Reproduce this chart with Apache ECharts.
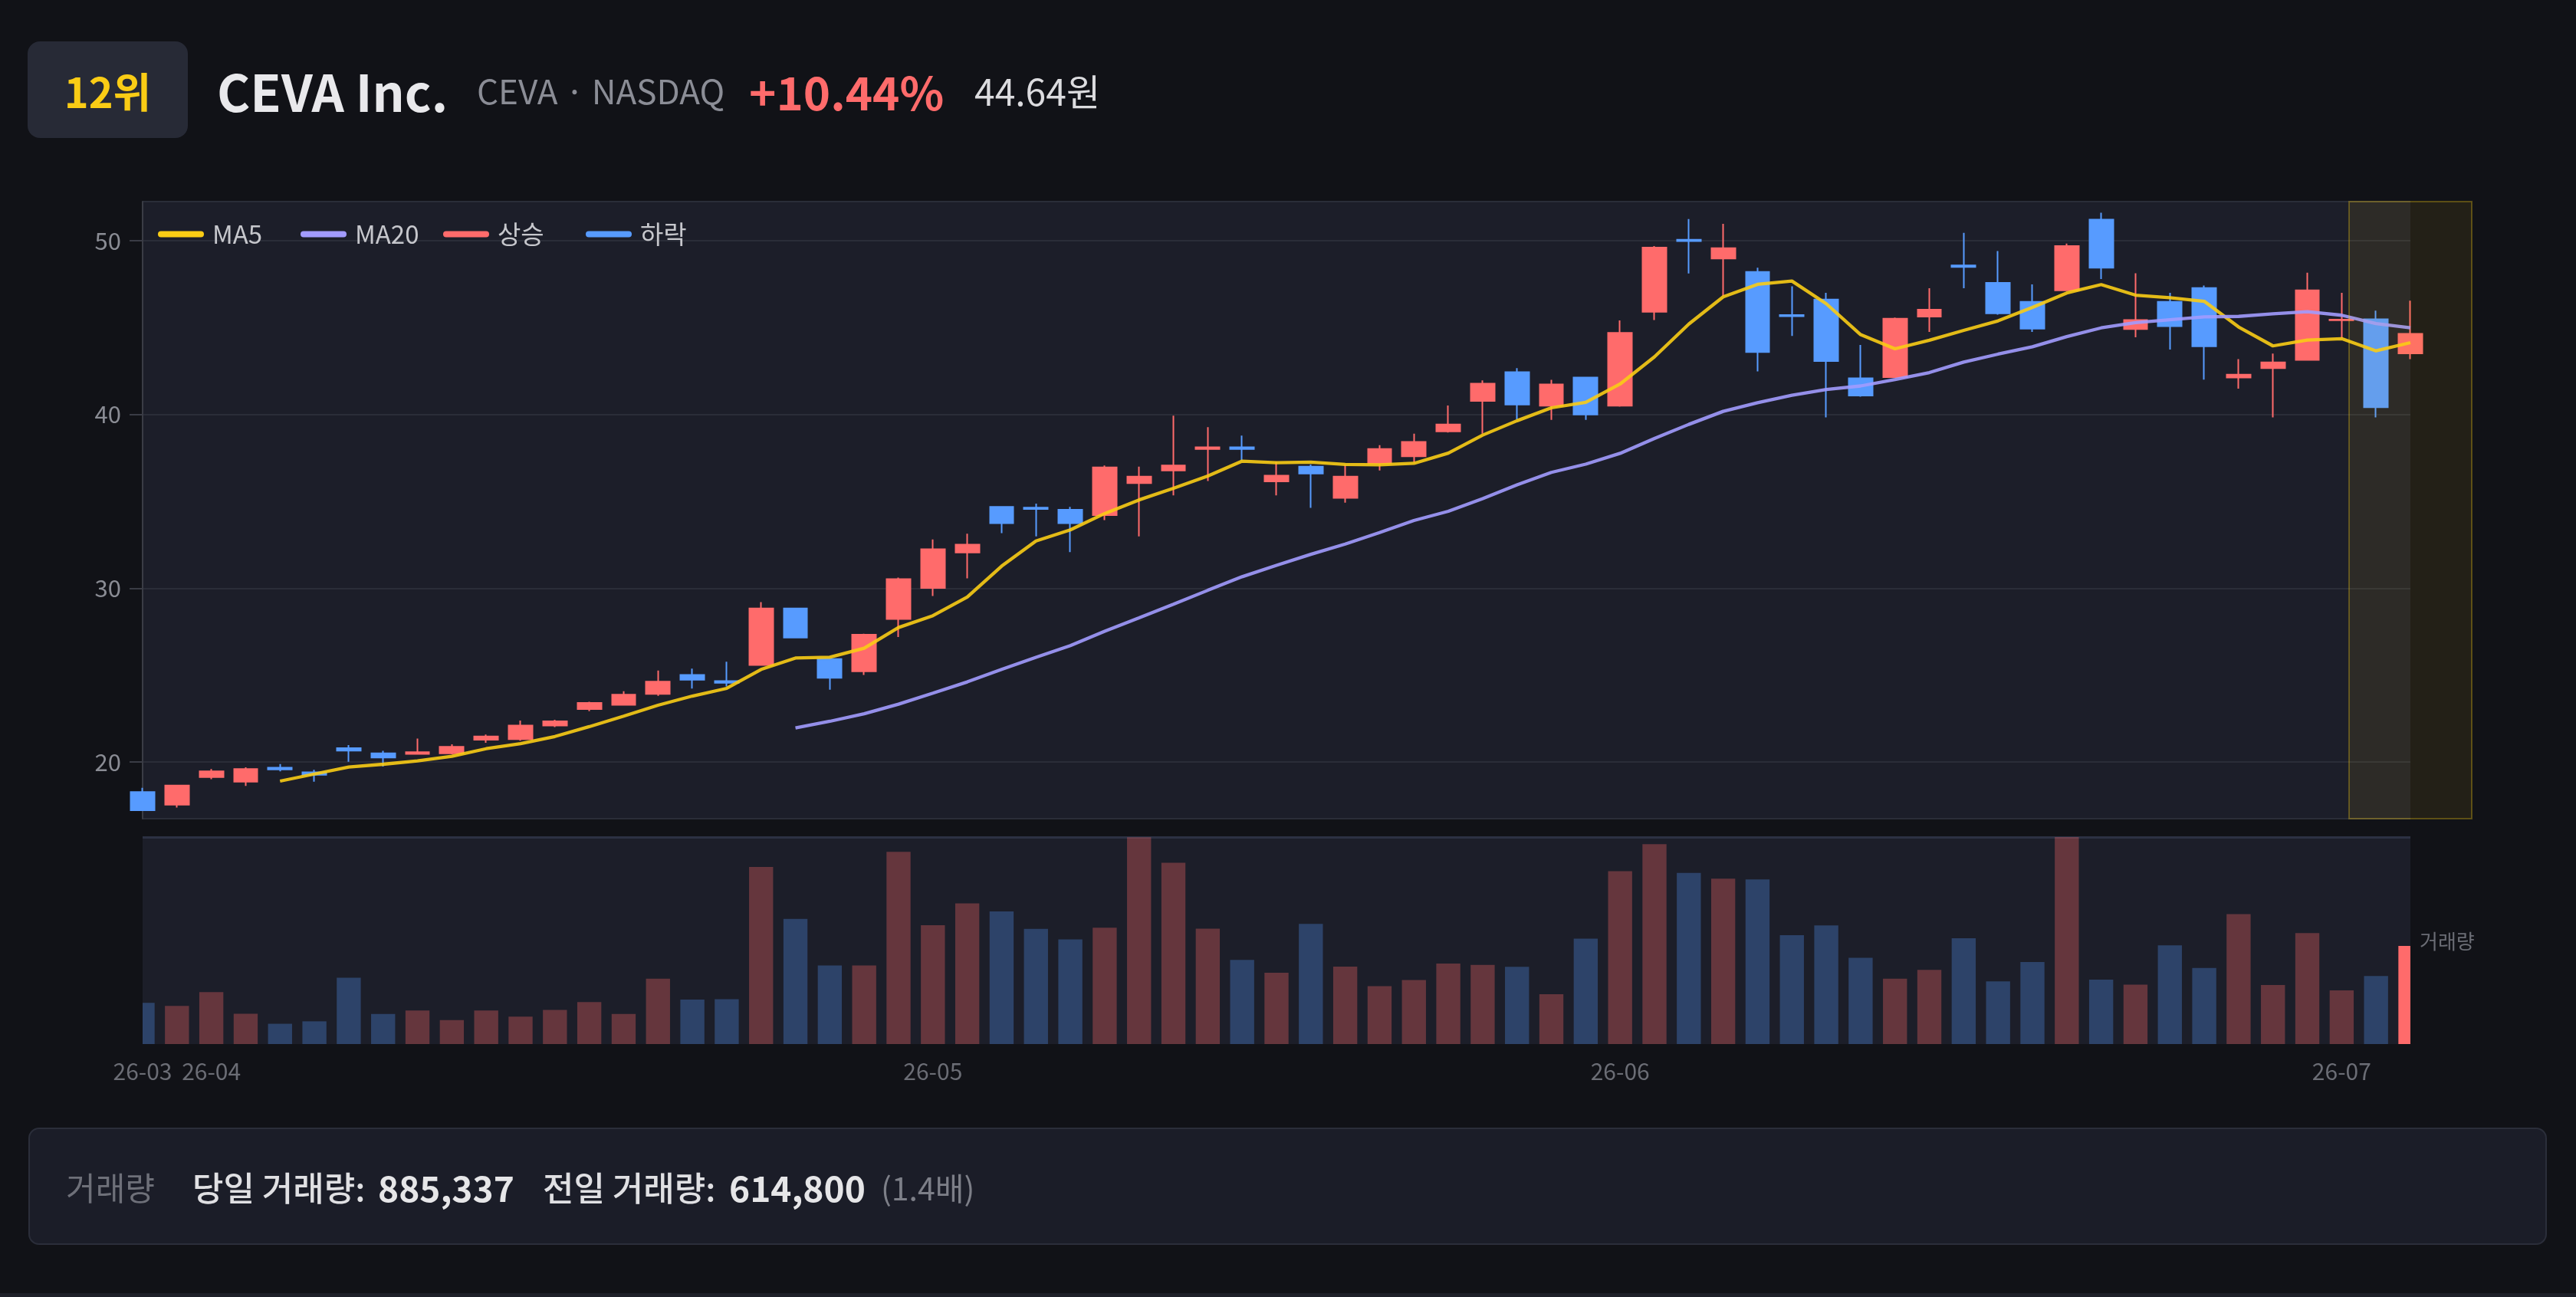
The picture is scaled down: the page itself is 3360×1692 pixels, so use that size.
<!DOCTYPE html>
<html>
<head>
<meta charset="utf-8">
<script src="https://cdn.jsdelivr.net/npm/echarts/dist/echarts.min.js"></script>
<style>
  html, body { margin: 0; padding: 0; background: #111217; width: 3360px; height: 1692px; overflow: hidden; font-family: "Noto Sans CJK KR", "Noto Sans", sans-serif; }
  #chart { position: absolute; left: 0; top: 0; width: 3360px; height: 1692px; }
  .h { position: absolute; top: 54px; height: 126px; display: flex; align-items: center; white-space: nowrap; }
  #badge { left: 36px; width: 209px; background: #272a36; border-radius: 16px; justify-content: center; color: #facc15; font-size: 54px; font-weight: 700; }
  #title { left: 283px; color: #e9e9ec; font-size: 66px; font-weight: 700; }
  #ticker { left: 622px; color: #8b8d96; font-size: 44px; }
  #pct { left: 977px; color: #ff6b6b; font-size: 60px; font-weight: 700; }
  #price { left: 1271px; color: #dcdcdf; font-size: 48px; }
  #foot { position: absolute; left: 37px; top: 1471px; width: 3285px; height: 153px; box-sizing: border-box; border: 2px solid #2b2e3a; border-radius: 14px; background: #1b1d28; }
  .f { position: absolute; top: 0; height: 149px; display: flex; align-items: center; white-space: nowrap; }
  .lab { font-size: 42px; color: #6e7079; }
  .txt { font-size: 44px; font-weight: 500; color: #e0e0e3; }
  .num { font-size: 46px; font-weight: 700; color: #e6e6e8; }
  .ratio { font-size: 41px; color: #7d7f88; }
  #bottomline { position: absolute; left: 0; top: 1687px; width: 3360px; height: 5px; background: #1e2029; }
</style>
</head>
<body>
<div id="chart"></div>
<div class="h" id="badge">12위</div>
<div class="h" id="title">CEVA Inc.</div>
<div class="h" id="ticker">CEVA · NASDAQ</div>
<div class="h" id="pct">+10.44%</div>
<div class="h" id="price">44.64원</div>
<div id="foot">
  <div class="f lab" style="left:47px;">거래량</div>
  <div class="f txt" style="left:212px;">당일 거래량:</div>
  <div class="f num" style="left:454px;">885,337</div>
  <div class="f txt" style="left:669px;">전일 거래량:</div>
  <div class="f num" style="left:912px;">614,800</div>
  <div class="f ratio" style="left:1110px;">(1.4배)</div>
</div>
<div id="bottomline"></div>
<script>
// ---- data ----
const dates = [
  '2026-03-30','2026-03-31',
  '2026-04-01','2026-04-02','2026-04-06','2026-04-07','2026-04-08','2026-04-09','2026-04-10',
  '2026-04-13','2026-04-14','2026-04-15','2026-04-16','2026-04-17','2026-04-20','2026-04-21',
  '2026-04-22','2026-04-23','2026-04-24','2026-04-27','2026-04-28','2026-04-29','2026-04-30',
  '2026-05-01','2026-05-04','2026-05-05','2026-05-06','2026-05-07','2026-05-08','2026-05-11',
  '2026-05-12','2026-05-13','2026-05-14','2026-05-15','2026-05-18','2026-05-19','2026-05-20',
  '2026-05-21','2026-05-22','2026-05-26','2026-05-27','2026-05-28','2026-05-29',
  '2026-06-01','2026-06-02','2026-06-03','2026-06-04','2026-06-05','2026-06-08','2026-06-09',
  '2026-06-10','2026-06-11','2026-06-12','2026-06-15','2026-06-16','2026-06-17','2026-06-18',
  '2026-06-22','2026-06-23','2026-06-24','2026-06-25','2026-06-26','2026-06-29','2026-06-30',
  '2026-07-01','2026-07-02','2026-07-06'
];
const opens = [
  18.27,17.54,19.13,18.87,19.67,19.41,20.80,20.50,20.47,20.50,
  21.28,21.32,22.10,23.05,23.29,23.92,25.01,24.66,25.58,28.84,
  25.93,25.22,28.23,30.02,32.06,34.68,34.64,34.52,34.21,36.05,
  36.78,38.01,38.11,36.15,37.00,35.20,37.19,37.59,39.03,40.78,
  42.43,40.50,42.13,40.50,45.91,50.05,48.98,48.20,45.72,46.62,
  42.08,42.15,45.63,48.58,47.57,46.48,47.14,51.21,44.92,46.48,
  47.28,42.13,42.67,43.14,45.42,45.48,43.52
];
const closes = [
  17.23,18.65,19.46,19.60,19.57,19.27,20.66,20.26,20.57,20.87,
  21.47,22.10,22.34,23.40,23.88,24.63,24.73,24.56,28.84,27.16,
  24.85,27.33,30.52,32.25,32.51,33.74,34.56,33.74,36.95,36.43,
  37.07,38.11,38.01,36.48,36.60,36.43,38.01,38.42,39.43,41.77,
  40.57,41.73,40.00,44.70,49.60,49.98,49.57,43.59,45.65,43.07,
  41.09,45.51,46.03,48.49,45.82,44.94,49.69,48.44,45.44,45.08,
  43.92,42.29,43.00,47.14,45.46,40.42,44.64
];
const lows = [
  17.20,17.38,19.01,18.63,19.46,18.87,20.02,19.74,20.45,20.45,
  21.11,21.23,22.01,22.93,23.27,23.81,24.23,24.35,25.55,27.14,
  24.16,25.01,27.19,29.55,30.57,33.17,32.98,32.08,33.92,32.98,
  35.34,36.17,37.35,35.34,34.63,34.92,36.78,37.23,38.96,38.89,
  39.72,39.69,39.69,40.45,45.44,48.11,46.81,42.48,44.52,39.83,
  41.02,42.15,44.75,47.26,45.74,44.75,47.14,47.80,44.44,43.74,
  42.01,41.49,39.83,43.14,44.40,39.83,43.19
];
const highs = [
  18.51,18.66,19.60,19.69,19.88,19.55,20.97,20.64,21.35,21.02,
  21.58,22.39,22.43,23.47,24.07,25.27,25.37,25.77,29.20,28.86,
  25.95,27.38,30.61,32.81,33.14,34.73,34.87,34.68,37.07,37.00,
  39.93,39.27,38.79,37.30,37.12,37.12,38.23,38.89,40.52,41.96,
  42.67,41.99,42.13,45.41,49.69,51.25,50.97,48.44,47.38,47.00,
  44.00,45.58,47.26,50.45,49.41,47.49,49.83,51.61,48.13,47.00,
  47.42,43.19,43.50,48.16,47.00,45.98,46.55
];
const volumes = [
  372000,344000,469000,273000,183000,205000,598000,272000,303000,217000,
  302000,247000,308000,379000,271000,590000,402000,404000,1599000,1130000,
  710000,709000,1734000,1072000,1270000,1197000,1040000,945000,1050000,1866000,
  1636000,1041000,760000,643000,1085000,699000,523000,577000,727000,715000,
  697000,450000,951000,1560000,1804000,1545000,1493000,1485000,983000,1070000,
  779000,590000,669000,955000,566000,740000,1868000,581000,536000,891000,
  686000,1173000,532000,1001000,484000,614800,885337
];
const legendNames = ['MA5', 'MA20', '상승', '하락'];

// ---- styles ----
const FONT = '"Noto Sans CJK KR", "Noto Sans", sans-serif';
const UP = '#ff6b6b', DOWN = '#579bff';
const UP_DIM = 'rgba(255,107,107,0.32)', DOWN_DIM = 'rgba(87,155,255,0.30)';
const MA5_C = '#facc15', MA20_C = '#a29bfe';
const G0 = { left: 186, right: 216, top: 263, height: 805 };
const G1 = { left: 186, right: 216, top: 1092, height: 270 };

function movingAverage(vals, n) {
  return vals.map((v, i) => {
    if (i < n - 1) return '-';
    let s = 0;
    for (let k = i - n + 1; k <= i; k++) s += vals[k];
    return +(s / n).toFixed(3);
  });
}

const last = dates.length - 1;
const candleData = dates.map((d, i) => [opens[i], closes[i], lows[i], highs[i]]);
const volData = volumes.map((v, i) => ({
  value: [i, v],
  itemStyle: { color: i === last ? UP : (closes[i] >= opens[i] ? UP_DIM : DOWN_DIM) }
}));
const volMax = Math.max.apply(null, volumes);

const chart = echarts.init(document.getElementById('chart'), null, { renderer: 'canvas' });
const pill = 'path://M4,0 L56,0 A4,4 0 0 1 56,8 L4,8 A4,4 0 0 1 4,0 Z';

const option = {
  backgroundColor: 'transparent',
  animation: false,
  textStyle: { fontFamily: FONT },
  legend: legendNames.map((n, i) => ({
    data: [{ name: n, icon: pill }],
    left: 206 + 186 * i, top: 289, padding: 0,
    itemWidth: 60, itemHeight: 8,
    selectedMode: false,
    textStyle: { color: '#c6c7cc', fontSize: 33, fontFamily: FONT, padding: [0, 0, 0, 6] }
  })),
  grid: [
    Object.assign({ show: true, backgroundColor: '#1c1e29', borderWidth: 0 }, G0),
    Object.assign({ show: true, backgroundColor: '#1c1e29', borderWidth: 0 }, G1)
  ],
  xAxis: [
    { type: 'category', gridIndex: 0, data: dates, boundaryGap: false,
      axisLine: { show: false }, axisTick: { show: false }, axisLabel: { show: false }, splitLine: { show: false } },
    { type: 'category', gridIndex: 1, data: dates, boundaryGap: false,
      axisLine: { show: false }, axisTick: { show: false }, splitLine: { show: false },
      axisLabel: {
        color: '#6b6d75', fontSize: 30, margin: 21, fontFamily: FONT,
        interval: (idx, val) => idx === 0 || dates[idx].slice(0, 7) !== dates[idx - 1].slice(0, 7),
        formatter: val => val.slice(2, 7)
      } }
  ],
  yAxis: [
    { type: 'value', gridIndex: 0, min: 16.74, max: 52.25,
      axisLine: { show: true, lineStyle: { color: '#3a3c45', width: 2 } },
      axisTick: { show: true, length: 17, lineStyle: { color: '#3a3c45', width: 2 } },
      axisLabel: { color: '#8a8c94', fontSize: 31, margin: 28, showMinLabel: false, showMaxLabel: false, fontFamily: FONT },
      splitLine: { show: true, lineStyle: { color: '#2a2d38', width: 2 } } },
    { type: 'value', gridIndex: 1, min: 0, max: volMax, interval: volMax,
      axisLine: { show: false }, axisTick: { show: false }, axisLabel: { show: false },
      splitLine: { show: true, showMinLine: false, lineStyle: { color: '#2c3143', width: 3 } } }
  ],
  series: [
    { name: 'K', type: 'candlestick', xAxisIndex: 0, yAxisIndex: 0, data: candleData,
      barWidth: '70%', clip: false,
      itemStyle: { color: UP, color0: DOWN, borderColor: UP, borderColor0: DOWN, borderWidth: 2 } },
    { name: 'MA5', type: 'line', xAxisIndex: 0, yAxisIndex: 0, data: movingAverage(closes, 5),
      symbol: 'none', showSymbol: false, smooth: false, color: MA5_C,
      lineStyle: { color: MA5_C, width: 4.3, opacity: 0.9 }, z: 5 },
    { name: 'MA20', type: 'line', xAxisIndex: 0, yAxisIndex: 0, data: movingAverage(closes, 20),
      symbol: 'none', showSymbol: false, smooth: false, color: MA20_C,
      lineStyle: { color: MA20_C, width: 4.3, opacity: 0.9 }, z: 5 },
    { name: '상승', type: 'line', xAxisIndex: 0, yAxisIndex: 0, data: [], color: UP, symbol: 'none' },
    { name: '하락', type: 'line', xAxisIndex: 0, yAxisIndex: 0, data: [], color: DOWN, symbol: 'none' },
    { name: '거래량', type: 'custom', xAxisIndex: 1, yAxisIndex: 1, data: volData, clip: true,
      encode: { x: 0, y: 1 },
      renderItem: (params, api) => {
        const top = api.coord([api.value(0), api.value(1)]);
        const base = api.coord([api.value(0), 0]);
        const w = api.size([1, 0])[0] * 0.7;
        return { type: 'rect',
          shape: { x: top[0] - w / 2, y: top[1], width: w, height: base[1] - top[1] },
          style: { fill: api.visual('color') } };
      } }
  ]
};
chart.setOption(option);

const hx = chart.convertToPixel({ gridIndex: 0 }, [dates[last], closes[last]])[0];
const vp = chart.convertToPixel({ gridIndex: 1 }, [last, volumes[last]]);
chart.setOption({
  graphic: [
    { type: 'rect', silent: true, z: 10,
      shape: { x: hx - 80, y: G0.top, width: 160, height: G0.height },
      style: { fill: 'rgba(250,204,21,0.08)', stroke: 'rgba(250,204,21,0.3)', lineWidth: 2 } },
    { type: 'text', silent: true, z: 10, x: 3360 - G1.right + 12, y: vp[1] - 6,
      style: { text: '거래량', fill: '#6b6d75', fontSize: 26, fontFamily: FONT, align: 'left', verticalAlign: 'middle' } }
  ]
});
</script>
</body>
</html>
